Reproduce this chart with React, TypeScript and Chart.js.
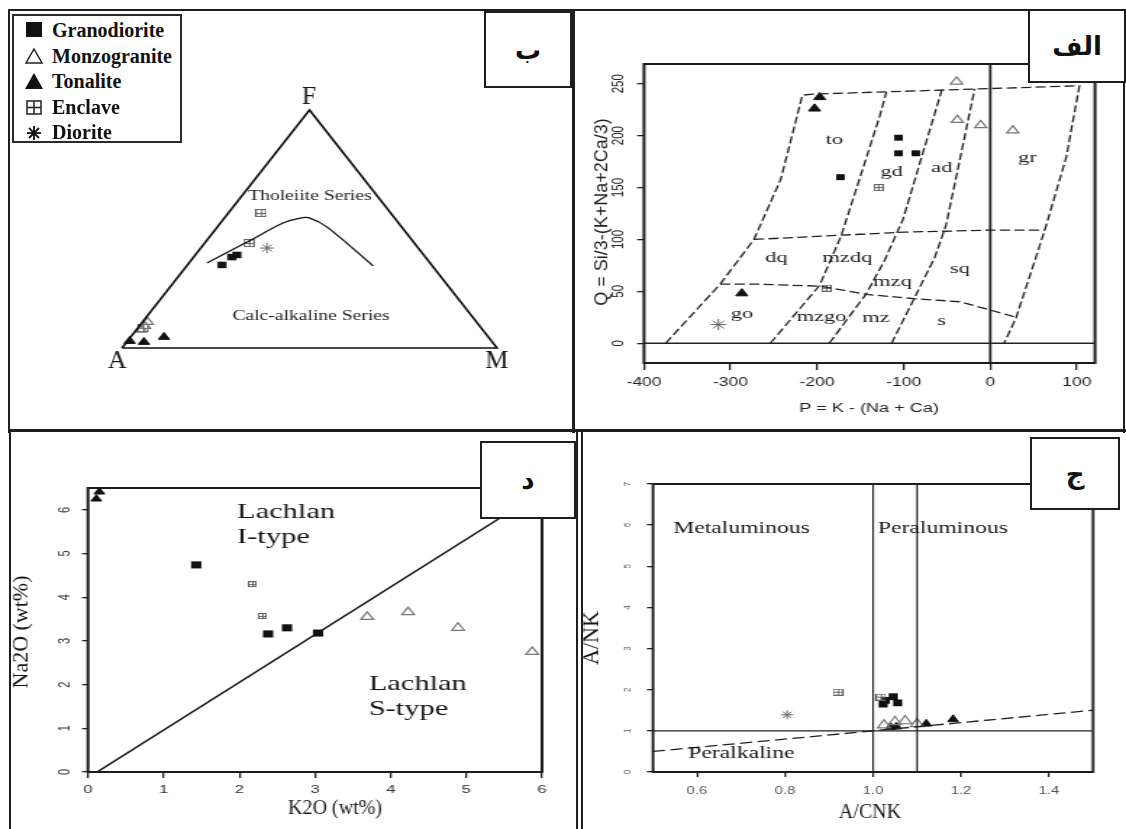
import React, { useEffect, useRef } from "react";
import { Chart, registerables } from "chart.js";

Chart.register(...registerables);

const PAGE_W = 1126;
const PAGE_H = 829;
const SERIF = '"Liberation Serif", "Times New Roman", serif';
const SANS = '"Liberation Sans", Arial, sans-serif';
const ARABIC = '"DejaVu Sans", "Noto Sans", sans-serif';

// ===== Panel ب : AFM ternary (F and M in %, A = 100 - F - M)
const afmGranodioriteF = [34.9, 38.2, 39.1];
const afmGranodioriteM = [9.2, 10.2, 11.1];
const afmMonzograniteF = [7.6, 9.2, 10.9];
const afmMonzograniteM = [1.3, 1.5, 1.4];
const afmTonaliteF = [2.9, 2.5, 4.6];
const afmTonaliteM = [0.6, 4.6, 8.9];
const afmEnclaveF = [56.7, 44.1, 8.4];
const afmEnclaveM = [8.7, 11.8, 1.4];
const afmDioriteF = [42.0];
const afmDioriteM = [17.7];
const afmBoundaryF = [35.7, 44.5, 52.5, 54.6, 54.6, 50.8, 34.5];
const afmBoundaryM = [4.8, 11.1, 16.7, 20.2, 22.8, 29.3, 49.7];
const afmTriangleF = [0, 100, 0, 0];
const afmTriangleM = [0, 0, 100, 0];

// ===== Panel الف : P-Q diagram
const pqTicksP = [-400, -300, -200, -100, 0, 100];
const pqTicksQ = [0, 50, 100, 150, 200, 250];
const pqGranodioriteP = [-173, -106, -106, -86];
const pqGranodioriteQ = [160, 198, 183, 183];
const pqMonzograniteP = [-39, -38, -11, 26];
const pqMonzograniteQ = [252, 215, 210, 205];
const pqTonaliteP = [-197, -203, -287];
const pqTonaliteQ = [237, 226, 48];
const pqEnclaveP = [-129, -189];
const pqEnclaveQ = [150, 53];
const pqDioriteP = [-314];
const pqDioriteQ = [18];
const pqOuterP = [-375, -312, -273, -242, -217, -205, 103, 88, 63, 30, 16];
const pqOuterQ = [0, 57, 100, 158, 239, 240, 248, 180, 109, 25, 0];
const pqLineAP = [-254, -197, -172, -128, -120];
const pqLineAQ = [0, 56, 104, 218, 242];
const pqLineBP = [-186, -143, -122, -101, -56];
const pqLineBQ = [0, 48, 80, 119, 244];
const pqLineCP = [-114, -88, -64, -51, -18];
const pqLineCQ = [0, 43, 83, 114, 245];
const pqUpperP = [-273, -150, -100, 0, 63];
const pqUpperQ = [100, 105, 107, 109, 109];
const pqLowerP = [-312, -270, -197, -143, -88, -35, 0, 30];
const pqLowerQ = [57, 57, 55, 47, 43, 40, 32, 25];
const pqZeroP = [-400, 121];
const pqZeroQ = [-19, 269];

// ===== Panel د : K2O vs Na2O
const k2oTicks = [0, 1, 2, 3, 4, 5, 6];
const na2oTicks = [0, 1, 2, 3, 4, 5, 6];
const dGranodioriteK = [1.43, 2.38, 2.63, 3.04];
const dGranodioriteNa = [4.74, 3.16, 3.3, 3.18];
const dMonzograniteK = [3.69, 4.23, 4.89, 5.87];
const dMonzograniteNa = [3.55, 3.66, 3.3, 2.75];
const dTonaliteK = [0.15, 0.11];
const dTonaliteNa = [6.41, 6.25];
const dEnclaveK = [2.17, 2.3];
const dEnclaveNa = [4.3, 3.57];
const dDividerK = [0.12, 6];
const dDividerNa = [0, 6.42];

// ===== Panel ج : A/CNK vs A/NK
const acnkTicks = [0.6, 0.8, 1.0, 1.2, 1.4];
const ankTicks = [0, 1, 2, 3, 4, 5, 6, 7];
const cGranodioriteACNK = [1.046, 1.023, 1.056, 1.028];
const cGranodioriteANK = [1.83, 1.65, 1.68, 1.74];
const cMonzograniteACNK = [1.025, 1.05, 1.073, 1.1];
const cMonzograniteANK = [1.14, 1.22, 1.24, 1.17];
const cTonaliteACNK = [1.04, 1.053, 1.121, 1.182];
const cTonaliteANK = [1.09, 1.1, 1.17, 1.28];
const cEnclaveACNK = [0.92, 1.018];
const cEnclaveANK = [1.94, 1.82];
const cDioriteACNK = [0.805];
const cDioriteANK = [1.39];
const cEqualACNK = [0.5, 1.5];
const cEqualANK = [0.5, 1.5];
const cUnitACNK = [0.5, 1.5];
const cUnitANK = [1, 1];
const cVerticalsACNK = [1.0, 1.1];
const cRangeANK = [0, 7];

// ---------- helpers
const pts = (xs: number[], ys: number[]) => xs.map((x, i) => ({ x, y: ys[i] }));
const tern = (F: number[], M: number[]) => F.map((f, i) => ({ x: (M[i] + f / 2) / 100, y: f / 100 }));

type Txt = {
  text: string; x: number; y: number; data?: boolean; font: string; color?: string;
  align?: CanvasTextAlign; baseline?: CanvasTextBaseline; rot?: number; sx?: number;
};

function textPlugin(items: Txt[], s: number) {
  return {
    id: "texts",
    afterDraw(chart: any) {
      const ctx = chart.ctx as CanvasRenderingContext2D;
      const xs = chart.scales.x, ys = chart.scales.y;
      for (const t of items) {
        const px = t.data ? xs.getPixelForValue(t.x) : t.x / s;
        const py = t.data ? ys.getPixelForValue(t.y) : t.y;
        ctx.save();
        ctx.translate(px, py);
        if (t.sx) ctx.scale(t.sx, 1);
        if (t.rot) ctx.rotate(t.rot);
        ctx.font = t.font;
        ctx.fillStyle = t.color || "#151515";
        ctx.textAlign = t.align || "center";
        ctx.textBaseline = t.baseline || "middle";
        ctx.fillText(t.text, 0, 0);
        ctx.restore();
      }
    },
  };
}

function framePlugin(lw: number, color: string) {
  return {
    id: "frame",
    beforeDatasetsDraw(chart: any) {
      const { left, top, right, bottom } = chart.chartArea;
      const ctx = chart.ctx as CanvasRenderingContext2D;
      ctx.save();
      ctx.lineWidth = lw;
      ctx.strokeStyle = color;
      ctx.strokeRect(left, top, right - left, bottom - top);
      ctx.restore();
    },
  };
}

function measureMax(labels: string[], font: string) {
  const c = document.createElement("canvas").getContext("2d")!;
  c.font = font;
  return Math.max(...labels.map((l) => c.measureText(l).width));
}

function enclaveMarker(w: number, h: number, color = "#666") {
  const c = document.createElement("canvas");
  c.width = w;
  c.height = h;
  const g = c.getContext("2d")!;
  g.strokeStyle = color;
  g.lineWidth = 1;
  g.strokeRect(0.5, 0.5, w - 1, h - 1);
  g.beginPath();
  const mx = Math.floor(w / 2) + 0.5, my = Math.floor(h / 2) + 0.5;
  g.moveTo(mx, 0); g.lineTo(mx, h);
  g.moveTo(0, my); g.lineTo(w, my);
  g.stroke();
  return c;
}

const sq = (r: number) => ({ pointStyle: "rect", pointRadius: r, pointBackgroundColor: "#111", pointBorderColor: "#111", pointBorderWidth: 0 });
const triFill = (r: number) => ({ pointStyle: "triangle", pointRadius: r, pointBackgroundColor: "#111", pointBorderColor: "#111", pointBorderWidth: 1 });
const triOpen = (r: number) => ({ pointStyle: "triangle", pointRadius: r, pointBackgroundColor: "rgba(0,0,0,0)", pointBorderColor: "#777", pointBorderWidth: 1.2 });
const star = (r: number) => ({ pointStyle: "star", pointRadius: r, pointBackgroundColor: "#666", pointBorderColor: "#666", pointBorderWidth: 1 });
const encl = (img: HTMLCanvasElement) => ({ pointStyle: img, pointRadius: 5, pointBorderWidth: 0 });

const pointDs = (label: string, data: any[], style: any) => ({ label, data, showLine: false, clip: false, pointHoverRadius: style.pointRadius, ...style });
const lineDs = (label: string, data: any[], color: string, width: number, dash: number[] = [], tension = 0, clip: any = false) => ({
  label, data, showLine: true, borderColor: color, borderWidth: width, borderDash: dash, pointRadius: 0, pointHoverRadius: 0, tension, fill: false, clip,
});

function axis(p: {
  pos: "x" | "y"; min: number; max: number; ticks: number[]; fmt: (v: number) => string; extent: number;
  fontSize: number; color: string; tl: number; pad: number; tickColor?: string; tickWidth?: number;
}) {
  const isY = p.pos === "y";
  return {
    type: "linear",
    position: isY ? "left" : "bottom",
    min: p.min,
    max: p.max,
    afterBuildTicks: (sc: any) => { sc.ticks = p.ticks.map((v) => ({ value: v })); },
    afterFit: (sc: any) => { if (isY) sc.width = p.extent; else sc.height = p.extent; },
    ticks: {
      autoSkip: false,
      includeBounds: false,
      callback: (v: any) => p.fmt(Number(v)),
      font: { family: SANS, size: p.fontSize },
      color: p.color,
      padding: p.pad,
      minRotation: isY ? 90 : 0,
      maxRotation: isY ? 90 : 0,
      crossAlign: isY ? "center" : "near",
    },
    grid: { drawOnChartArea: false, drawTicks: true, tickLength: p.tl, color: p.tickColor || "#222", lineWidth: p.tickWidth || 1.3 },
    border: { display: false },
    title: { display: false },
  };
}

function baseOptions(padding: any, scales: any) {
  return {
    animation: false,
    responsive: false,
    devicePixelRatio: 1,
    events: [],
    layout: { padding },
    plugins: { legend: { display: false }, tooltip: { enabled: false } },
    scales,
  };
}

// ---------- Panel ب
function buildAFM(cw: number, s: number) {
  const L = 122, T = 110, R = 497, B = 348;
  const datasets = [
    lineDs("triangle", tern(afmTriangleF, afmTriangleM), "#111", 1.6),
    lineDs("boundary", tern(afmBoundaryF, afmBoundaryM), "#111", 1.3, [], 0.35),
    pointDs("Monzogranite", tern(afmMonzograniteF, afmMonzograniteM), triOpen(4.6)),
    pointDs("Enclave", tern(afmEnclaveF, afmEnclaveM), encl(enclaveMarker(8, 8))),
    pointDs("Tonalite", tern(afmTonaliteF, afmTonaliteM), triFill(4.6)),
    pointDs("Granodiorite", tern(afmGranodioriteF, afmGranodioriteM), sq(4.6)),
    pointDs("Diorite", tern(afmDioriteF, afmDioriteM), star(5)),
  ];
  const texts: Txt[] = [
    { text: "Tholeiite Series", x: 0.501, y: 0.639, data: true, font: `14px ${SERIF}`, color: "#222" },
    { text: "Calc-alkaline Series", x: 0.504, y: 0.134, data: true, font: `14px ${SERIF}`, color: "#222" },
    { text: "F", x: 0.499, y: 1.055, data: true, font: `26px ${SERIF}`, sx: 1 / s },
    { text: "A", x: -0.013, y: -0.055, data: true, font: `26px ${SERIF}`, sx: 1 / s },
    { text: "M", x: 1.0, y: -0.055, data: true, font: `26px ${SERIF}`, sx: 1 / s },
  ];
  return {
    type: "scatter",
    data: { datasets },
    options: baseOptions(
      { left: L / s, top: T, right: cw - R / s, bottom: PAGE_H - B },
      { x: { type: "linear", display: false, min: 0, max: 1 }, y: { type: "linear", display: false, min: 0, max: 1 } }
    ),
    plugins: [textPlugin(texts, s)],
  };
}

// ---------- Panel الف
function buildPQ(cw: number, s: number) {
  const L = 644, T = 64, R = 1095, B = 363;
  const yFont = 11.5;
  const widest = measureMax(pqTicksQ.map(String), `${yFont}px ${SANS}`);
  const tlY = 7 / s;
  const dash = [7, 3];
  const dc = "#222";
  const datasets = [
    lineDs("Q=0", pts(pqZeroP, [0, 0]), "#222", 1.5),
    lineDs("P=0", pts([0, 0], pqZeroQ), "#222", 1.8),
    lineDs("outer", pts(pqOuterP, pqOuterQ), dc, 1.3, dash),
    lineDs("A", pts(pqLineAP, pqLineAQ), dc, 1.3, dash),
    lineDs("B", pts(pqLineBP, pqLineBQ), dc, 1.3, dash),
    lineDs("C", pts(pqLineCP, pqLineCQ), dc, 1.3, dash),
    lineDs("upper", pts(pqUpperP, pqUpperQ), dc, 1.3, dash),
    lineDs("lower", pts(pqLowerP, pqLowerQ), dc, 1.3, dash),
    pointDs("Monzogranite", pts(pqMonzograniteP, pqMonzograniteQ), triOpen(4.8)),
    pointDs("Enclave", pts(pqEnclaveP, pqEnclaveQ), encl(enclaveMarker(7, 7))),
    pointDs("Tonalite", pts(pqTonaliteP, pqTonaliteQ), triFill(4.8)),
    pointDs("Granodiorite", pts(pqGranodioriteP, pqGranodioriteQ), sq(4.2)),
    pointDs("Diorite", pts(pqDioriteP, pqDioriteQ), star(5.5)),
  ];
  const rf = `15.5px ${SERIF}`;
  const regions: [string, number, number][] = [
    ["to", -180, 196], ["gd", -114, 165], ["ad", -56, 169], ["gr", 43, 179],
    ["dq", -247, 82], ["mzdq", -165, 82], ["mzq", -113, 59], ["sq", -35, 72],
    ["go", -287, 28], ["mzgo", -195, 25], ["mz", -132, 24], ["s", -56, 22],
  ];
  const texts: Txt[] = regions.map(([text, x, y]) => ({ text, x, y, data: true, font: rf, color: "#1a1a1a" }));
  texts.push({ text: "P = K - (Na + Ca)", x: 869, y: 409, font: `12.5px ${SANS}`, color: "#222" });
  texts.push({ text: "Q = Si/3-(K+Na+2Ca/3)", x: 602, y: 212, rot: -Math.PI / 2, font: `18px ${SANS}`, color: "#222", sx: 1 / s });
  return {
    type: "scatter",
    data: { datasets },
    options: baseOptions(
      { left: 0, top: T, right: cw - R / s, bottom: 0 },
      {
        x: axis({ pos: "x", min: -400, max: 121, ticks: pqTicksP, fmt: (v) => String(v), extent: PAGE_H - B, fontSize: 12, color: "#222", tl: 7, pad: 383 - B - 7 - 7.2 }),
        y: axis({ pos: "y", min: -19, max: 269, ticks: pqTicksQ, fmt: (v) => String(v), extent: L / s, fontSize: yFont, color: "#222", tl: tlY, pad: (L - 618) / s - tlY - widest / 2 }),
      }
    ),
    plugins: [framePlugin(2, "#1c1c1c"), textPlugin(texts, s)],
  };
}

// ---------- Panel د
function buildNaK(cw: number, s: number) {
  const L = 88, T = 488, R = 542, B = 772;
  const yFont = 11;
  const widest = measureMax(na2oTicks.map(String), `${yFont}px ${SANS}`);
  const tlY = 6 / s;
  const datasets = [
    lineDs("I/S divide", pts(dDividerK, dDividerNa), "#111", 1.5, [], 0, true),
    pointDs("Monzogranite", pts(dMonzograniteK, dMonzograniteNa), triOpen(5)),
    pointDs("Enclave", pts(dEnclaveK, dEnclaveNa), encl(enclaveMarker(6, 6))),
    pointDs("Tonalite", pts(dTonaliteK, dTonaliteNa), triFill(4.2)),
    pointDs("Granodiorite", pts(dGranodioriteK, dGranodioriteNa), sq(5)),
  ];
  const lf = `21px ${SERIF}`;
  const texts: Txt[] = [
    { text: "Lachlan", x: 1.97, y: 5.81, data: true, font: lf, align: "left", baseline: "alphabetic" },
    { text: "I-type", x: 1.97, y: 5.24, data: true, font: lf, align: "left", baseline: "alphabetic" },
    { text: "Lachlan", x: 3.71, y: 1.88, data: true, font: lf, align: "left", baseline: "alphabetic" },
    { text: "S-type", x: 3.71, y: 1.3, data: true, font: lf, align: "left", baseline: "alphabetic" },
    { text: "K2O (wt%)", x: 335, y: 809, font: `20px ${SERIF}`, sx: 1 / s },
    { text: "Na2O (wt%)", x: 22, y: 632, rot: -Math.PI / 2, font: `22px ${SERIF}`, sx: 1 / s },
  ];
  return {
    type: "scatter",
    data: { datasets },
    options: baseOptions(
      { left: 0, top: T, right: cw - R / s, bottom: 0 },
      {
        x: axis({ pos: "x", min: 0, max: 6, ticks: k2oTicks, fmt: (v) => String(v), extent: PAGE_H - B, fontSize: 11.5, color: "#333", tl: 6, pad: 790 - B - 6 - 6.9 }),
        y: axis({ pos: "y", min: 0, max: 6.5, ticks: na2oTicks, fmt: (v) => String(v), extent: L / s, fontSize: yFont, color: "#333", tl: tlY, pad: (L - 65) / s - tlY - widest / 2 }),
      }
    ),
    plugins: [framePlugin(2, "#1c1c1c"), textPlugin(texts, s)],
  };
}

// ---------- Panel ج
function buildShand(cw: number, s: number) {
  const L = 653, T = 484, R = 1093, B = 772;
  const yFont = 8;
  const widest = measureMax(ankTicks.map(String), `${yFont}px ${SANS}`);
  const tlY = 6 / s;
  const datasets = [
    lineDs("A/NK=1", pts(cUnitACNK, cUnitANK), "#222", 1.2),
    lineDs("A/CNK=1.0", pts([cVerticalsACNK[0], cVerticalsACNK[0]], cRangeANK), "#222", 1.2),
    lineDs("A/CNK=1.1", pts([cVerticalsACNK[1], cVerticalsACNK[1]], cRangeANK), "#222", 1.2),
    lineDs("A/NK=A/CNK", pts(cEqualACNK, cEqualANK), "#222", 1.3, [9, 4]),
    pointDs("Monzogranite", pts(cMonzograniteACNK, cMonzograniteANK), triOpen(5.5)),
    pointDs("Enclave", pts(cEnclaveACNK, cEnclaveANK), encl(enclaveMarker(8, 7))),
    pointDs("Tonalite", pts(cTonaliteACNK, cTonaliteANK), triFill(4.5)),
    pointDs("Granodiorite", pts(cGranodioriteACNK, cGranodioriteANK), sq(4.8)),
    pointDs("Diorite", pts(cDioriteACNK, cDioriteANK), star(4.5)),
  ];
  const lf = `17.5px ${SERIF}`;
  const texts: Txt[] = [
    { text: "Metaluminous", x: 0.546, y: 5.93, data: true, font: lf, align: "left" },
    { text: "Peraluminous", x: 1.011, y: 5.93, data: true, font: lf, align: "left" },
    { text: "Peralkaline", x: 0.58, y: 0.46, data: true, font: lf, align: "left" },
    { text: "A/CNK", x: 870, y: 813, font: `20px ${SERIF}`, sx: 1 / s },
    { text: "A/NK", x: 592, y: 638, rot: -Math.PI / 2, font: `22px ${SERIF}`, sx: 1 / s },
  ];
  return {
    type: "scatter",
    data: { datasets },
    options: baseOptions(
      { left: 0, top: T, right: cw - R / s, bottom: 0 },
      {
        x: axis({ pos: "x", min: 0.5, max: 1.5, ticks: acnkTicks, fmt: (v) => v.toFixed(1), extent: PAGE_H - B, fontSize: 11, color: "#555", tl: 5, pad: 791 - B - 5 - 6.6 }),
        y: axis({ pos: "y", min: 0, max: 7, ticks: ankTicks, fmt: (v) => String(v), extent: L / s, fontSize: yFont, color: "#666", tl: tlY, pad: (L - 627) / s - tlY - widest / 2 }),
      }
    ),
    plugins: [framePlugin(2, "#1c1c1c"), textPlugin(texts, s)],
  };
}

function ChartLayer({ sx, build }: { sx: number; build: (cw: number, s: number) => any }) {
  const ref = useRef<HTMLCanvasElement | null>(null);
  const cw = Math.round(PAGE_W / sx);
  const s = PAGE_W / cw;
  useEffect(() => {
    if (!ref.current) return;
    const chart = new Chart(ref.current, build(cw, s) as any);
    return () => chart.destroy();
  }, []);
  return (
    <canvas
      ref={ref}
      width={cw}
      height={PAGE_H}
      style={{ position: "absolute", left: 0, top: 0, width: PAGE_W, height: PAGE_H }}
    />
  );
}

const rules = [
  { l: 8, t: 9, w: 1118, h: 2 },
  { l: 8, t: 9, w: 2, h: 424 },
  { l: 572, t: 9, w: 3, h: 424 },
  { l: 1123, t: 9, w: 2, h: 424 },
  { l: 8, t: 429, w: 1118, h: 3 },
  { l: 9, t: 430, w: 2, h: 399 },
  { l: 576, t: 430, w: 2, h: 399 },
  { l: 581, t: 430, w: 2, h: 399 },
];

const tagBoxes = [
  { text: "ب", l: 484, t: 11, w: 88, h: 77 },
  { text: "الف", l: 1028, t: 9, w: 98, h: 74 },
  { text: "د", l: 480, t: 441, w: 96, h: 78 },
  { text: "ج", l: 1030, t: 437, w: 90, h: 73 },
];

const legendNames = ["Granodiorite", "Monzogranite", "Tonalite", "Enclave", "Diorite"];

function LegendSymbol({ i }: { i: number }) {
  const common = { width: 20, height: 18, viewBox: "0 0 20 18" } as any;
  if (i === 0) return <svg {...common}><rect x="2" y="1" width="16" height="15" fill="#111" /></svg>;
  if (i === 1) return <svg {...common}><polygon points="10,2 18,16 2,16" fill="none" stroke="#222" strokeWidth="1.5" /></svg>;
  if (i === 2) return <svg {...common}><polygon points="10,1 19,17 1,17" fill="#111" /></svg>;
  if (i === 3)
    return (
      <svg {...common}>
        <rect x="3" y="3" width="14" height="13" fill="none" stroke="#222" strokeWidth="1.5" />
        <line x1="10" y1="3" x2="10" y2="16" stroke="#222" strokeWidth="1.5" />
        <line x1="3" y1="9.5" x2="17" y2="9.5" stroke="#222" strokeWidth="1.5" />
      </svg>
    );
  return (
    <svg {...common}>
      <g stroke="#111" strokeWidth="1.8">
        <line x1="10" y1="3" x2="10" y2="17" />
        <line x1="3" y1="10" x2="17" y2="10" />
        <line x1="5" y1="5" x2="15" y2="15" />
        <line x1="15" y1="5" x2="5" y2="15" />
      </g>
    </svg>
  );
}

export default function App() {
  return (
    <div style={{ position: "absolute", left: 0, top: 0, width: PAGE_W, height: PAGE_H, background: "#fff", overflow: "hidden" }}>
      <ChartLayer sx={1.4} build={buildAFM} />
      <ChartLayer sx={1.45} build={buildPQ} />
      <ChartLayer sx={1.45} build={buildNaK} />
      <ChartLayer sx={1.35} build={buildShand} />
      {rules.map((r, i) => (
        <div key={i} style={{ position: "absolute", left: r.l, top: r.t, width: r.w, height: r.h, background: "#1e1e1e" }} />
      ))}
      {tagBoxes.map((b, i) => (
        <div
          key={i}
          style={{
            position: "absolute", left: b.l, top: b.t, width: b.w, height: b.h, boxSizing: "border-box",
            border: "2px solid #1e1e1e", background: "#fff", display: "flex", alignItems: "center",
            justifyContent: "center", fontFamily: ARABIC, fontWeight: "bold", fontSize: 26, color: "#111", direction: "rtl",
          }}
        >
          {b.text}
        </div>
      ))}
      <div
        style={{
          position: "absolute", left: 12, top: 14, width: 170, height: 129, boxSizing: "border-box",
          border: "2px solid #2a2a2a", background: "#fff", fontFamily: SERIF, fontWeight: "bold", fontSize: 20, color: "#111",
        }}
      >
        {legendNames.map((n, i) => (
          <div key={n} style={{ position: "absolute", left: 8, top: 2 + i * 25.5, height: 24, display: "flex", alignItems: "center" }}>
            <span style={{ width: 24, display: "inline-flex", justifyContent: "center" }}>
              <LegendSymbol i={i} />
            </span>
            <span style={{ marginLeft: 6, lineHeight: "24px" }}>{n}</span>
          </div>
        ))}
      </div>
    </div>
  );
}
